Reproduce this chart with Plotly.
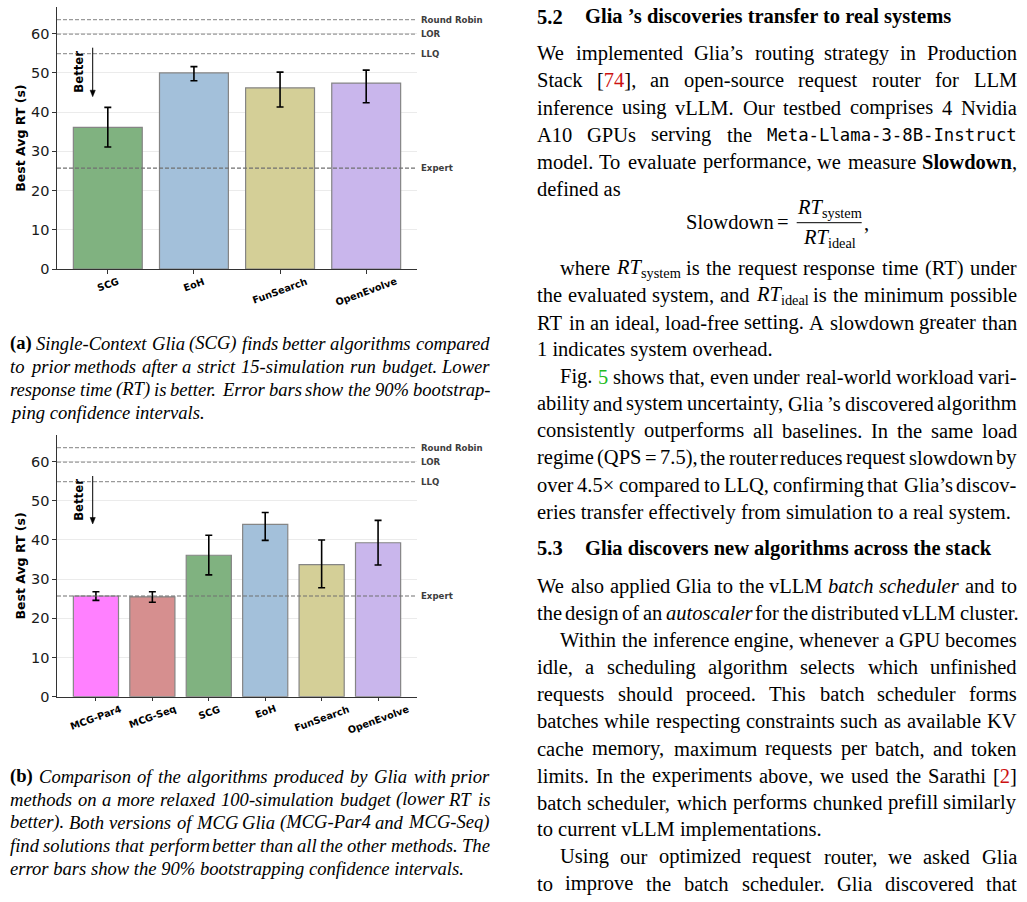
import plotly.graph_objects as go

W, H = 1027, 902
FIG_H = 910  # the photographed viewport is slightly taller than the target picture

# ---------------- chart data ----------------
methods_a = ["SCG", "EoH", "FunSearch", "OpenEvolve"]
rt_a = [36.1, 50.0, 46.2, 47.4]
ci_hi_a = [41.2, 51.6, 50.2, 50.7]
ci_lo_a = [31.1, 48.0, 41.3, 42.4]

methods_b = ["MCG-Par4", "MCG-Seq", "SCG", "EoH", "FunSearch", "OpenEvolve"]
rt_b = [25.7, 25.5, 36.1, 44.0, 33.7, 39.3]
ci_hi_b = [26.8, 26.8, 41.2, 47.0, 40.0, 45.0]
ci_lo_b = [24.6, 24.1, 31.1, 39.9, 27.8, 33.6]

baseline_names = ["Round Robin", "LOR", "LLQ", "Expert"]
baseline_rt = [63.6, 59.9, 54.9, 25.7]

y_ticks = [0, 10, 20, 30, 40, 50, 60]
y_max = 66.8
y_title = "Best Avg RT (s)"

method_colors = {
    "MCG-Par4": "#ff80ff",
    "MCG-Seq": "#d68f8f",
    "SCG": "#80b280",
    "EoH": "#a3c0da",
    "FunSearch": "#d4cf97",
    "OpenEvolve": "#c9b6ec",
}

fig = go.Figure()

X0, X1 = 57.0, 417.0
panels = [
    dict(ax="", names=methods_a, rt=rt_a, hi=ci_hi_a, lo=ci_lo_a, top=7.0, bottom=269.0,
         better_y=71.7, arrow_top=47.7, arrow_tip=96.7),
    dict(ax="2", names=methods_b, rt=rt_b, hi=ci_hi_b, lo=ci_lo_b, top=435.0, bottom=696.7,
         better_y=499.8, arrow_top=476.0, arrow_tip=524.0),
]


def PX(x):
    return x / W


def PY(y):
    return 1 - y / H


AXC = "#333333"
for p in panels:
    ax = p["ax"]
    n = len(p["names"])
    xs = list(range(n))
    fig.add_trace(go.Bar(
        x=xs, y=p["rt"], width=0.8,
        marker=dict(color=[method_colors[m] for m in p["names"]],
                    line=dict(color="#858585", width=1.2)),
        error_y=dict(type="data", symmetric=False,
                     array=[h - v for h, v in zip(p["hi"], p["rt"])],
                     arrayminus=[v - l for v, l in zip(p["rt"], p["lo"])],
                     color="black", thickness=1.6, width=3.5),
        xaxis="x" + ax, yaxis="y" + ax, showlegend=False, hoverinfo="skip"))
    mg = 0.05 * (n - 1 + 0.8)
    fig.layout["xaxis" + ax] = dict(
        domain=[PX(X0), PX(X1)], range=[-0.4 - mg, n - 1 + 0.4 + mg], anchor="y" + ax,
        tickvals=xs, showticklabels=False, ticks="outside", ticklen=3.5, tickwidth=1,
        tickcolor=AXC, showline=True, linecolor=AXC, linewidth=1.3, showgrid=False,
        zeroline=False)
    fig.layout["yaxis" + ax] = dict(
        domain=[PY(p["bottom"]), PY(p["top"])], range=[0, y_max], anchor="x" + ax,
        tickvals=y_ticks, ticks="outside", ticklen=3.5, tickwidth=1, tickcolor=AXC,
        showline=True, linecolor=AXC, linewidth=1.3, showgrid=True, gridcolor="#ebebeb",
        gridwidth=1.2, zeroline=False,
        tickfont=dict(family="DejaVu Sans", size=14.5, color="#1a1a1a"))
    # baselines
    for name, v in zip(baseline_names, baseline_rt):
        col = "#707070" if name == "Expert" else "#9a9a9a"
        fig.add_shape(type="line", xref=("x" + ax + " domain"), x0=0, x1=1,
                      yref="y" + ax, y0=v, y1=v, layer="above",
                      line=dict(color=col, width=1.2, dash="4px,2px"))
        fig.add_annotation(xref="paper", x=PX(420.5), xanchor="left", yref="y" + ax, y=v,
                           yanchor="middle", text="<b>%s</b>" % name, showarrow=False,
                           font=dict(family="DejaVu Sans", size=8.6, color="#3d3d3d"),
                           borderpad=0, borderwidth=0)
    # x tick labels (rotated, centred like matplotlib)
    for i, m in enumerate(p["names"]):
        fig.add_annotation(xref="x" + ax, x=i, yref="paper", y=PY(p["bottom"] + 6.5),
                           xanchor="center", yanchor="top", textangle=-20,
                           text="<b>%s</b>" % m, showarrow=False, borderpad=0, borderwidth=0,
                           font=dict(family="DejaVu Sans", size=9.7, color="black"))
    # y title
    fig.add_annotation(xref="paper", x=PX(20.7), yref="paper",
                       y=PY((p["top"] + p["bottom"]) / 2), xanchor="center",
                       yanchor="middle", textangle=-90,
                       text="<b>%s</b>" % y_title, showarrow=False, borderpad=0, borderwidth=0,
                       font=dict(family="DejaVu Sans", size=12.5, color="black"))
    # Better label and arrow
    fig.add_annotation(xref="paper", x=PX(79), yref="paper", y=PY(p["better_y"]),
                       xanchor="center", yanchor="middle",
                       textangle=-90, text="<b>Better</b>", showarrow=False,
                       borderpad=0, borderwidth=0,
                       font=dict(family="DejaVu Sans", size=11.7, color="black"))
    axx = 92.7
    fig.add_shape(type="line", xref="paper", yref="paper", x0=PX(axx), x1=PX(axx),
                  y0=PY(p["arrow_top"]), y1=PY(p["arrow_tip"] - 5), layer="above",
                  line=dict(color="black", width=1))
    tip = p["arrow_tip"]
    fig.add_shape(type="path", xref="paper", yref="paper", layer="above",
                  path="M %f %f L %f %f L %f %f Z" % (PX(axx - 2.6), PY(tip - 6.5),
                                                     PX(axx + 2.6), PY(tip - 6.5),
                                                     PX(axx), PY(tip)),
                  fillcolor="black", line=dict(color="black", width=0.5))

# ---------------- page text ----------------
REG = {' ': 250, '!': 333, '%': 833, "'": 180, '(': 333, ')': 333, ',': 250, '-': 333,
       '.': 250, '/': 278, ':': 278, ';': 278, '=': 564, '?': 444, '[': 333, ']': 333,
       '’': 333, '×': 564,
       'A': 722, 'B': 667, 'C': 667, 'D': 722, 'E': 611, 'F': 556, 'G': 722, 'H': 722,
       'I': 333, 'J': 389, 'K': 722, 'L': 611, 'M': 889, 'N': 722, 'O': 722, 'P': 556,
       'Q': 722, 'R': 667, 'S': 556, 'T': 611, 'U': 722, 'V': 722, 'W': 944, 'X': 722,
       'Y': 722, 'Z': 611,
       'a': 444, 'b': 500, 'c': 444, 'd': 500, 'e': 444, 'f': 333, 'g': 500, 'h': 500,
       'i': 278, 'j': 278, 'k': 500, 'l': 278, 'm': 778, 'n': 500, 'o': 500, 'p': 500,
       'q': 500, 'r': 333, 's': 389, 't': 278, 'u': 500, 'v': 500, 'w': 722, 'x': 500,
       'y': 500, 'z': 444}
ITA = {'A': 611, 'B': 611, 'C': 667, 'D': 722, 'E': 611, 'F': 611, 'G': 722, 'H': 722,
       'I': 333, 'J': 444, 'K': 667, 'L': 556, 'M': 833, 'N': 667, 'O': 722, 'P': 611,
       'Q': 722, 'R': 611, 'S': 500, 'T': 556, 'U': 722, 'V': 611, 'W': 833, 'X': 611,
       'Y': 556, 'Z': 556,
       'a': 500, 'b': 500, 'c': 444, 'd': 500, 'e': 444, 'f': 278, 'g': 500, 'h': 500,
       'i': 278, 'j': 278, 'k': 444, 'l': 278, 'm': 722, 'n': 500, 'o': 500, 'p': 500,
       'q': 500, 'r': 389, 's': 389, 't': 278, 'u': 500, 'v': 444, 'w': 667, 'x': 444,
       'y': 444, 'z': 389}
BLD = {'S': 556, 'a': 500, 'b': 556, 'd': 556, 'e': 444, 'l': 278, 'n': 556, 'o': 500,
       'w': 722, '(': 333, ')': 333, ',': 250}

SERIF = "Liberation Serif"
MONO = "DejaVu Sans Mono"
MONO_SIZE = 17.3
RED = "#cc1111"
GREEN = "#22bb22"


def char_w(ch, st, size):
    if st == 'm':
        return 0.602 * MONO_SIZE
    if st == 'i':
        u = ITA.get(ch, REG.get(ch, 500))
    elif st == 'b':
        u = BLD.get(ch, REG.get(ch, 500) * 1.05)
    elif st == 's':
        u = REG.get(ch, 500) * 0.7
    else:
        u = REG.get(ch, 500)
    return u / 1000.0 * size


def wrap(txt, st):
    if st == 'i':
        return "<i>%s</i>" % txt
    if st == 'b':
        return "<b>%s</b>" % txt
    if st == 'R':
        return '<span style="color:%s">%s</span>' % (RED, txt)
    if st == 'G':
        return '<span style="color:%s">%s</span>' % (GREEN, txt)
    if st == 's':
        return "<sub>%s</sub>" % txt
    return txt


def tokenize(segs):
    words, cur = [], []
    for text, st in segs:
        for ch in text:
            if ch == ' ':
                if cur:
                    words.append(cur)
                    cur = []
            else:
                cur.append((ch, st))
    if cur:
        words.append(cur)
    return words


def word_html(word):
    out, i = [], 0
    while i < len(word):
        st = word[i][1]
        j = i
        while j < len(word) and word[j][1] == st:
            j += 1
        out.append(wrap(''.join(c for c, _ in word[i:j]), st))
        i = j
    return ''.join(out)


def text_ann(x, y, html, size, family=SERIF, xanchor="left"):
    fig.add_annotation(xref="paper", yref="paper", x=PX(x), y=PY(y), xanchor=xanchor,
                       yanchor="middle", text=html, showarrow=False, borderpad=0,
                       borderwidth=0, font=dict(family=family, size=size, color="black"))


def add_line(y, x0, x1, segs, size, justify, default="n"):
    if isinstance(segs, str):
        segs = [(segs, default)]
    words = tokenize(segs)
    if not justify or len(words) < 2:
        text_ann(x0, y, ' '.join(word_html(w) for w in words), size)
        return
    widths = [sum(char_w(c, s, size) for c, s in w) for w in words]
    n = len(words)
    gap = (x1 - x0 - sum(widths)) / (n - 1)
    for k, w in enumerate(words):
        mono = any(s == 'm' for _, s in w)
        fam = MONO if mono else SERIF
        fs = MONO_SIZE if mono else size
        if k < n / 2.0:
            xl = x0 + sum(widths[:k]) + k * gap
            text_ann(xl, y, word_html(w), fs, fam, xanchor="left")
        else:
            xr = x1 - sum(widths[k + 1:]) - (n - 1 - k) * gap
            text_ann(xr, y, word_html(w), fs, fam, xanchor="right")


BODY = 20.5
R0, R1, IND = 537.0, 1017.0, 560.0
right_lines = [
    (53.3, R0, True, [("We implemented Glia’s routing strategy in Production", "n")]),
    (80.5, R0, True, [("Stack [", "n"), ("74", "R"), ("], an open-source request router for LLM", "n")]),
    (107.6, R0, True, "inference using vLLM. Our testbed comprises 4 Nvidia"),
    (134.7, R0, True, [("A10 GPUs serving the ", "n"), ("Meta-Llama-3-8B-Instruct", "m")]),
    (161.8, R0, True, [("model. To evaluate performance, we measure ", "n"), ("Slowdown", "b"), (",", "n")]),
    (188.8, R0, False, "defined as"),
    (268.3, IND, True, [("where ", "n"), ("RT", "i"), ("system", "s"), (" is the request response time (RT) under", "n")]),
    (295.4, R0, True, [("the evaluated system, and ", "n"), ("RT", "i"), ("ideal", "s"), (" is the minimum possible", "n")]),
    (322.5, R0, True, "RT in an ideal, load-free setting. A slowdown greater than"),
    (349.6, R0, False, "1 indicates system overhead."),
    (376.6, IND, True, [("Fig. ", "n"), ("5", "G"), (" shows that, even under real-world workload vari-", "n")]),
    (403.7, R0, True, "ability and system uncertainty, Glia ’s discovered algorithm"),
    (430.8, R0, True, "consistently outperforms all baselines. In the same load"),
    (457.9, R0, True, "regime (QPS = 7.5), the router reduces request slowdown by"),
    (485.0, R0, True, "over 4.5× compared to LLQ, confirming that Glia’s discov-"),
    (512.0, R0, False, "eries transfer effectively from simulation to a real system."),
    (586.0, R0, True, [("We also applied Glia to the vLLM ", "n"), ("batch scheduler", "i"), (" and to", "n")]),
    (613.1, R0, True, [("the design of an ", "n"), ("autoscaler", "i"), (" for the distributed vLLM cluster.", "n")]),
    (640.2, IND, True, "Within the inference engine, whenever a GPU becomes"),
    (667.3, R0, True, "idle, a scheduling algorithm selects which unfinished"),
    (694.4, R0, True, "requests should proceed. This batch scheduler forms"),
    (721.4, R0, True, "batches while respecting constraints such as available KV"),
    (748.5, R0, True, "cache memory, maximum requests per batch, and token"),
    (775.6, R0, True, [("limits. In the experiments above, we used the Sarathi [", "n"), ("2", "R"), ("]", "n")]),
    (802.7, R0, True, "batch scheduler, which performs chunked prefill similarly"),
    (829.8, R0, False, "to current vLLM implementations."),
    (856.8, IND, True, "Using our optimized request router, we asked Glia"),
    (883.9, R0, True, "to improve the batch scheduler. Glia discovered that"),
]
for y, x0, just, segs in right_lines:
    x1 = 1019.0 if y == 613.1 else R1
    add_line(y, x0, x1, segs, BODY, just)

# section headings
headings = [(16.7, "5.2", "Glia ’s discoveries transfer to real systems"),
            (548.3, "5.3", "Glia discovers new algorithms across the stack")]
for y, num, title in headings:
    text_ann(R0, y, "<b>%s</b>" % num, BODY)
    text_ann(585.0, y, "<b>%s</b>" % title, BODY)

# formula
text_ann(685.7, 221.7, "Slowdown", BODY)
text_ann(783.3, 221.7, "=", BODY, xanchor="center")
text_ann(796.7, 208.0, "<i>RT</i><sub>system</sub>", BODY)
text_ann(803.3, 238.0, "<i>RT</i><sub>ideal</sub>", BODY)
text_ann(864.0, 223.0, ",", BODY)
fig.add_shape(type="line", xref="paper", yref="paper", x0=PX(796.7), x1=PX(861.7),
              y0=PY(222.7), y1=PY(222.7), line=dict(color="black", width=1))

# captions
CAP = 18.6
C0, C1 = 10.0, 490.0
caption_lines = [
    (343.0, True, [("(a)", "b"), (" Single-Context Glia (SCG) finds better algorithms compared", "i")]),
    (366.0, True, "to prior methods after a strict 15-simulation run budget. Lower"),
    (389.0, True, "response time (RT) is better. Error bars show the 90% bootstrap-"),
    (412.5, False, "ping confidence intervals."),
    (776.0, True, [("(b)", "b"), (" Comparison of the algorithms produced by Glia with prior", "i")]),
    (799.0, True, "methods on a more relaxed 100-simulation budget (lower RT is"),
    (822.0, True, "better). Both versions of MCG Glia (MCG-Par4 and MCG-Seq)"),
    (845.0, True, "find solutions that perform better than all the other methods. The"),
    (868.0, False, "error bars show the 90% bootstrapping confidence intervals."),
]
for y, just, segs in caption_lines:
    add_line(y, C0, C1, segs, CAP, just, default="i")

fig.update_layout(width=W, height=FIG_H, margin=dict(l=0, r=0, t=0, b=0),
                  paper_bgcolor="white", plot_bgcolor="white", showlegend=False)

fig.write_html("out.html", config={"displayModeBar": False},
               default_width="%dpx" % W, default_height="%dpx" % FIG_H,
               post_script="document.documentElement.style.margin='0px';"
                           "document.documentElement.style.overflow='hidden';"
                           "document.body.style.margin='0px';"
                           "document.body.style.overflow='hidden';")
